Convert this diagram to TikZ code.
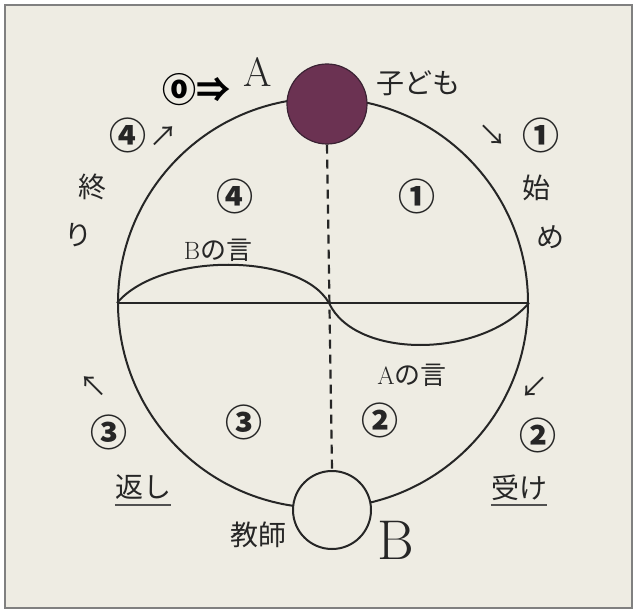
\documentclass[tikz,border=0pt]{standalone}
\usepackage{fontspec}
\newfontfamily\jp{Noto Sans CJK JP}
\definecolor{paper}{HTML}{EEECE3}
\definecolor{ink}{HTML}{262626}
\definecolor{plum}{HTML}{6B3252}
\definecolor{rim}{HTML}{3A2233}

\tikzset{
  jptext/.style={font=\jp\fontsize{28}{28}\selectfont, text=ink, inner sep=0pt},
  smalljp/.style={font=\jp\fontsize{26}{26}\selectfont, text=ink, inner sep=0pt},
  num/.style={font=\jp\bfseries\fontsize{37}{37}\selectfont, text=ink, inner sep=0pt},
  arrowglyph/.style={font=\jp\fontsize{28}{28}\selectfont, text=ink, inner sep=0pt},
  circline/.style={draw=ink, line width=2pt},
}

\begin{document}
\begin{tikzpicture}[x=1pt, y=-1pt]
  \useasboundingbox (0,0) rectangle (637,612);
  \fill[white] (0,0) rectangle (637,612);
  \fill[paper] (5,5) rectangle (632,608);
  \draw[gray, line width=1.2pt] (5,5) rectangle (632,608);

  % the round of talk
  \node[circle, circline, minimum size=410pt, inner sep=0pt] (ring) at (323,303) {};
  \node[circle, draw=rim, fill=plum, line width=1.2pt, minimum size=80pt, inner sep=0pt] (child) at (327,104) {};
  \node[circle, circline, fill=paper, minimum size=78pt, inner sep=0pt] (teacher) at (332,510) {};
  \coordinate (mid) at (329,303);

  \draw[ink, line width=2pt] (ring.west) -- (ring.east);
  \draw[ink, line width=2.2pt, dash pattern=on 9pt off 6pt] (child.south) -- (teacher.north);
  \draw[ink, line width=2pt] (ring.west) .. controls (160,252) and (300,252) .. (mid);
  \draw[ink, line width=2pt] (mid) .. controls (355,359) and (480,359) .. (ring.east);

  % top
  \node[font=\jp\bfseries\fontsize{34}{34}\selectfont, text=black, inner sep=0pt] (start) at (196,90) {⓪⇒};
  \node[font=\fontsize{41}{41}\selectfont, text=ink, inner sep=0pt] (nameA) at (258,72) {A};
  \node[jptext] (kodomo) at (418,83) {子ども};

  % left side
  \node[num] (sideFour) at (128,135) {④};
  \node[arrowglyph] (arrFour) at (163,137) {↗};
  \node[jptext] (owa) at (92,187) {終};
  \node[jptext] (ri) at (78,235) {り};
  \node[arrowglyph] (arrThree) at (93,387) {↖};
  \node[num] (sideThree) at (109,432) {③};
  \node[jptext] (henshi) at (143,487) {返し};
  \draw[ink!80, line width=1.6pt] ([yshift=-18pt]henshi.west) -- ([yshift=-18pt]henshi.east);

  % right side
  \node[arrowglyph] (arrOne) at (492,135) {↘};
  \node[num] (sideOne) at (541,135) {①};
  \node[jptext] (haji) at (536,188) {始};
  \node[jptext] (me) at (550,237) {め};
  \node[arrowglyph] (arrTwo) at (534,387) {↙};
  \node[num] (sideTwo) at (538,435) {②};
  \node[jptext] (uke) at (519,488) {受け};
  \draw[ink!80, line width=1.6pt] ([yshift=-17pt]uke.west) -- ([yshift=-17pt]uke.east);

  % inside
  \node[num] (inFour) at (235,196) {④};
  \node[num] (inOne) at (417,196) {①};
  \node[num] (inThree) at (244,422) {③};
  \node[num] (inTwo) at (380,420) {②};
  \node[smalljp] (wordB) at (218,250) {{\rmfamily\fontsize{25}{25}\selectfont B}の言};
  \node[smalljp] (wordA) at (412,375) {{\rmfamily\fontsize{25}{25}\selectfont A}の言};

  % bottom
  \node[jptext] (kyoshi) at (258,535) {教師};
  \node[font=\fontsize{56}{56}\selectfont, text=ink, inner sep=0pt] (nameB) at (396,540) {B};
\end{tikzpicture}
\end{document}
